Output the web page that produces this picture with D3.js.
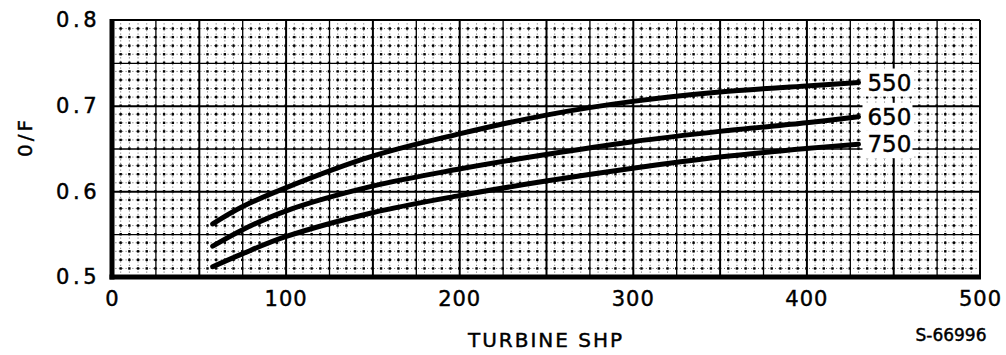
<!DOCTYPE html>
<html>
<head>
<meta charset="utf-8">
<script src="https://cdn.jsdelivr.net/npm/d3@7"></script>
<style>
  html, body { margin: 0; padding: 0; background: #fff; }
  svg { display: block; }
  text { font-family: "DejaVu Sans", sans-serif; fill: #000; stroke: #000; stroke-width: 0.45px; }
</style>
</head>
<body>
<svg id="chart" width="1006" height="355"></svg>
<script>
// turbine shp vs O/F, three curves
const SHP = [58, 75, 100, 150, 200, 250, 300, 350, 400, 430];
const OF_550 = [0.562, 0.582, 0.604, 0.641, 0.667, 0.689, 0.705, 0.716, 0.723, 0.727];
const OF_650 = [0.536, 0.555, 0.577, 0.606, 0.626, 0.643, 0.658, 0.670, 0.680, 0.687];
const OF_750 = [0.512, 0.527, 0.547, 0.575, 0.595, 0.612, 0.627, 0.640, 0.650, 0.655];
const SERIES_NAMES = ['550', '650', '750'];
const X_TICKS = [0, 100, 200, 300, 400, 500];
const Y_TICKS = [0.5, 0.6, 0.7, 0.8];

const W = 1006, H = 355;
const M = { left: 112, top: 20, right: 26, bottom: 78 };
const PW = W - M.left - M.right, PH = H - M.top - M.bottom;

const svg = d3.select('#chart');
const g = svg.append('g').attr('transform', `translate(${M.left},${M.top})`);

const x = d3.scaleLinear().domain([0, 500]).range([0, PW]);
const y = d3.scaleLinear().domain([0.5, 0.8]).range([PH, 0]);

// minor dotted grid (5 units / 0.01)
const minorX = d3.range(5, 500, 5).filter(v => v % 25 !== 0);
const minorY = d3.range(51, 80, 1).filter(v => v % 5 !== 0).map(v => v / 100);

g.append('g').selectAll('line').data(minorX).join('line')
  .attr('x1', d => x(d)).attr('x2', d => x(d))
  .attr('y1', 0).attr('y2', PH)
  .attr('stroke', '#333').attr('stroke-width', 0.8)
  .attr('stroke-dasharray', '1,2.4');
g.append('g').selectAll('line').data(minorY).join('line')
  .attr('y1', d => y(d)).attr('y2', d => y(d))
  .attr('x1', 0).attr('x2', PW)
  .attr('stroke', '#333').attr('stroke-width', 0.8)
  .attr('stroke-dasharray', '1,2.4');

// intersection dots
const dots = [];
d3.range(5, 500, 5).forEach(a => d3.range(51, 80, 1).forEach(b => dots.push([a, b / 100])));
g.append('g').selectAll('rect').data(dots).join('rect')
  .attr('x', d => x(d[0]) - 1.2).attr('y', d => y(d[1]) - 1.2)
  .attr('width', 2.4).attr('height', 2.4).attr('fill', '#000');

// major grid through axes
const gx = g.append('g')
  .call(d3.axisBottom(x).tickValues(d3.range(25, 500, 25)).tickSize(PH).tickFormat(''));
gx.select('.domain').remove();
gx.selectAll('.tick line')
  .attr('stroke', '#000')
  .attr('stroke-width', d => d % 50 === 0 ? 2 : 1.3);

const gy = g.append('g')
  .call(d3.axisLeft(y).tickValues([0.55, 0.6, 0.65, 0.7, 0.75]).tickSize(-PW).tickFormat(''));
gy.select('.domain').remove();
gy.selectAll('.tick line')
  .attr('stroke', '#000')
  .attr('stroke-width', d => Math.round(d * 100) % 10 === 0 ? 2 : 1.3);

// frame: heavy left/bottom, lighter top/right
g.append('line').attr('x1', 0).attr('x2', PW).attr('y1', 0).attr('y2', 0)
  .attr('stroke', '#000').attr('stroke-width', 2);
g.append('line').attr('x1', PW).attr('x2', PW).attr('y1', 0).attr('y2', PH)
  .attr('stroke', '#000').attr('stroke-width', 2);
g.append('line').attr('x1', 0).attr('x2', 0).attr('y1', -1).attr('y2', PH + 2.5)
  .attr('stroke', '#000').attr('stroke-width', 5);
g.append('line').attr('x1', -2.5).attr('x2', PW + 1).attr('y1', PH).attr('y2', PH)
  .attr('stroke', '#000').attr('stroke-width', 5);

// curves
const series = [OF_550, OF_650, OF_750];
const line = d3.line()
  .x((d, i) => x(SHP[i]))
  .y(d => y(d))
  .curve(d3.curveCatmullRom.alpha(0.5));

series.forEach((vals, k) => {
  g.append('path')
    .attr('d', line(vals))
    .attr('fill', 'none')
    .attr('stroke', '#000')
    .attr('stroke-width', 5)
    .attr('stroke-linecap', 'round');

  const lx = x(SHP[SHP.length - 1]);
  const ly = y(vals[vals.length - 1]);
  g.append('rect')
    .attr('x', lx + 4).attr('y', ly - 14)
    .attr('width', 50).attr('height', 28)
    .attr('fill', '#fff');
  g.append('text')
    .attr('x', lx + 9).attr('y', ly)
    .attr('dy', '0.36em')
    .attr('font-size', 23)
    .attr('stroke-width', 0.6)
    .text(SERIES_NAMES[k]);
});

// tick labels
const ax = g.append('g').attr('transform', `translate(0,${PH})`)
  .call(d3.axisBottom(x).tickValues(X_TICKS).tickSize(0).tickPadding(14).tickFormat(d3.format('d')));
ax.select('.domain').remove();
ax.selectAll('text').attr('font-family', null).attr('font-size', 21)
  .attr('letter-spacing', 1).attr('dy', '0.71em');

const ay = g.append('g')
  .call(d3.axisLeft(y).tickValues(Y_TICKS).tickSize(0).tickPadding(12).tickFormat(d3.format('.1f')));
ay.select('.domain').remove();
ay.selectAll('text').attr('font-family', null).attr('font-size', 21).attr('letter-spacing', 3.5);

// titles
svg.append('text')
  .attr('x', M.left + PW / 2).attr('y', 340).attr('dy', '0.36em')
  .attr('text-anchor', 'middle')
  .attr('font-size', 20).attr('letter-spacing', 2)
  .text('TURBINE SHP');

svg.append('text')
  .attr('transform', 'translate(25,137) rotate(-90)')
  .attr('text-anchor', 'middle').attr('dy', '0.36em')
  .attr('font-size', 20).attr('letter-spacing', 3)
  .text('0/F');

svg.append('text')
  .attr('x', 951).attr('y', 335).attr('dy', '0.36em')
  .attr('text-anchor', 'middle')
  .attr('font-size', 17).attr('stroke-width', 0.2)
  .text('S-66996');
</script>
</body>
</html>
